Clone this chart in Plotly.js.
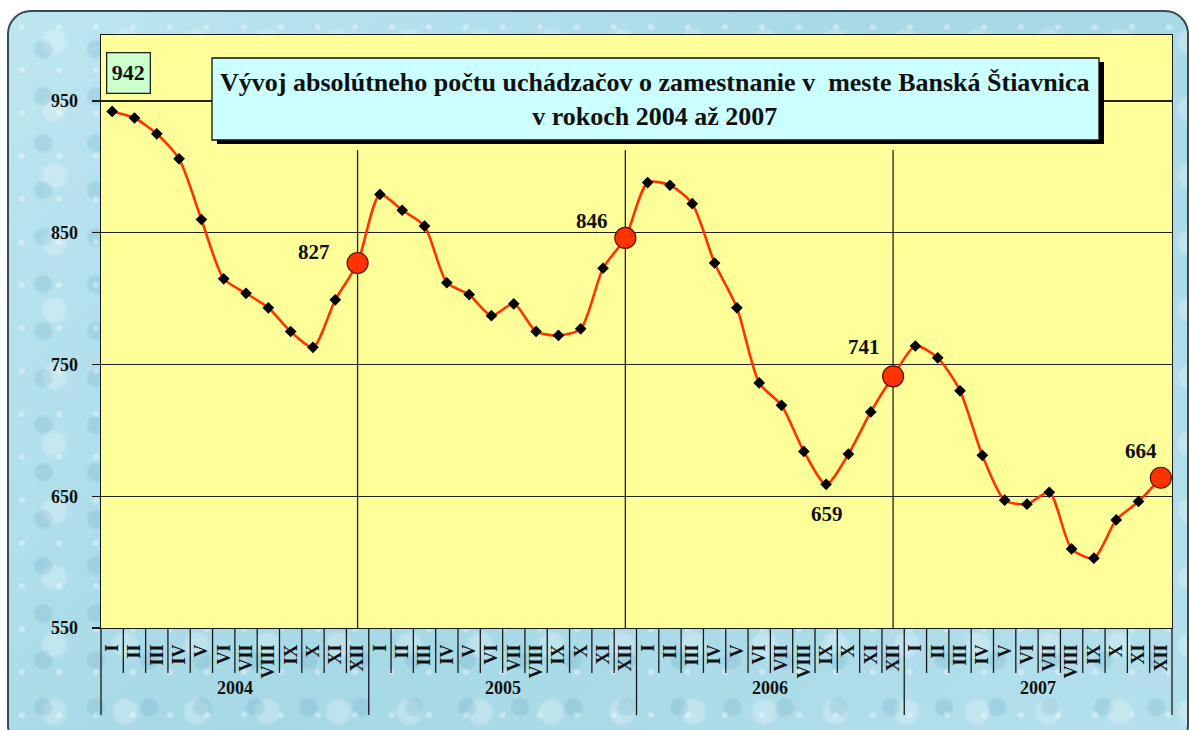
<!DOCTYPE html>
<html>
<head>
<meta charset="utf-8">
<script src="https://cdn.plot.ly/plotly-3.0.1.min.js"></script>
<style>
  html, body { margin:0; padding:0; background:#ffffff; overflow:hidden; }
  #card {
    position:absolute; left:7px; top:10px; width:1182px; height:740px;
    border:2px solid #3a4a50; border-radius:24px; box-sizing:border-box;
    background:
      radial-gradient(circle at 35% 35%, rgba(255,255,255,0.35) 0 2px, rgba(255,255,255,0) 4px) 0 0/37px 43px,
      radial-gradient(circle at 55% 60%, rgba(80,150,180,0.18) 0 7px, rgba(80,150,180,0) 11px) 5px 9px/53px 47px,
      radial-gradient(circle at 40% 40%, rgba(255,255,255,0.25) 0 10px, rgba(255,255,255,0) 15px) 17px 3px/71px 67px,
      linear-gradient(135deg, #bde6f0 0%, #a6d8e6 50%, #b4e0ec 100%);
  }
  #chart { position:absolute; left:0; top:0; width:1189px; height:730px; }
</style>
</head>
<body>
<div id="card"></div>
<div id="chart"></div>
<script>
// ---- data ----
const years = ['2004', '2005', '2006', '2007'];
const months = ['I','II','III','IV','V','VI','VII','VIII','IX','X','XI','XII'];
const v2004 = [942, 937, 925, 906, 860, 815, 804, 793, 775, 763, 799, 827];
const v2005 = [879, 867, 855, 812, 803, 787, 796, 775, 772, 777, 823, 846];
const v2006 = [888, 886, 872, 827, 793, 736, 719, 684, 659, 682, 714, 741];
const v2007 = [764, 755, 730, 681, 647, 644, 653, 610, 603, 632, 646, 664];
const yTicks = [550, 650, 750, 850, 950];
const titleLine1 = 'Vývoj absolútneho počtu uchádzačov o zamestnanie v\u00a0 meste Banská Štiavnica';
const titleLine2 = 'v rokoch 2004 až 2007';

// ---- derived ----
const values = [].concat(v2004, v2005, v2006, v2007);
const idx = values.map((_, i) => i);
const tickText = [].concat(months, months, months, months);
const decIdx = years.map((_, k) => k * 12 + 11);
const minIdx = values.indexOf(Math.min.apply(null, v2006));
const n = values.length;

const serif = '"Liberation Serif", "Times New Roman", "DejaVu Serif", serif';
const LINE = '#ff3300';

const traces = [
  {
    x: idx, y: values, type: 'scatter', mode: 'lines+markers',
    line: { color: LINE, width: 2.6, shape: 'spline', smoothing: 0.7 },
    marker: { symbol: 'diamond', size: 9, color: '#000000' },
    hoverinfo: 'skip'
  },
  {
    x: decIdx, y: decIdx.map(i => values[i]), type: 'scatter', mode: 'markers',
    marker: { symbol: 'circle', size: 21, color: LINE, line: { color: '#5a1000', width: 1.2 } },
    hoverinfo: 'skip'
  }
];

const H = 593, W = 1071;
const shapes = [];
// boundary ticks below the x axis
for (let k = 0; k <= n; k++) {
  shapes.push({
    type: 'line', xref: 'paper', yref: 'paper',
    x0: k / n, x1: k / n, y0: 0, y1: (k % 12 === 0) ? -87 / H : -45 / H,
    line: { color: '#1a1a1a', width: 1.3 }
  });
}
// year separators inside plot at December points
decIdx.slice(0, 3).forEach(i => {
  shapes.push({
    type: 'line', xref: 'x', yref: 'paper', x0: i, x1: i, y0: 0, y1: 478 / H,
    layer: 'below', line: { color: '#222222', width: 1.3 }
  });
});
// title box shadow + box
shapes.push({ type: 'rect', xref: 'paper', yref: 'paper', layer: 'above',
  x0: 116 / W, x1: 1003 / W, y0: 484 / H, y1: 566 / H,
  fillcolor: '#000000', line: { width: 0 } });
shapes.push({ type: 'rect', xref: 'paper', yref: 'paper', layer: 'above',
  x0: 111 / W, x1: 998 / W, y0: 488 / H, y1: 570 / H,
  fillcolor: '#ccffff', line: { color: '#111111', width: 1.3 } });

const annotations = [
  { xref: 'paper', yref: 'paper', x: 554 / W, y: 529 / H, xanchor: 'center', yanchor: 'middle',
    showarrow: false,
    text: '<b>' + titleLine1 + '</b><br><b>' + titleLine2 + '</b>',
    font: { family: serif, size: 26, color: '#111111' }, align: 'center' },
  { xref: 'paper', yref: 'paper', x: 27 / W, y: 555.5 / H, xanchor: 'center', yanchor: 'middle',
    showarrow: false, width: 34, height: 31,
    text: '<b>' + values[0] + '</b>', font: { family: serif, size: 22, color: '#111111' },
    bgcolor: '#ccffcc', bordercolor: '#222222', borderwidth: 1.3, borderpad: 4 }
];
const offsets = { 11: [-44, 11], 23: [-33, 17], 35: [-29, 29], 47: [-20, 27] };
decIdx.forEach(i => {
  annotations.push({ x: i, y: values[i], xref: 'x', yref: 'y', showarrow: false,
    text: '<b>' + values[i] + '</b>', font: { family: serif, size: 21, color: '#111111' },
    xshift: offsets[i][0], yshift: offsets[i][1] });
});
annotations.push({ x: minIdx, y: values[minIdx], xref: 'x', yref: 'y', showarrow: false,
  text: '<b>' + values[minIdx] + '</b>', font: { family: serif, size: 21, color: '#111111' },
  xshift: 1, yshift: -30 });
years.forEach((yr, k) => {
  annotations.push({ x: k * 12 + 5.5, y: -72 / H, xref: 'x', yref: 'paper', showarrow: false,
    text: '<b>' + yr + '</b>', font: { family: serif, size: 18, color: '#111111' } });
});

const layout = {
  width: 1189, height: 730,
  margin: { l: 101, r: 17, t: 35, b: 102 },
  paper_bgcolor: 'rgba(0,0,0,0)',
  plot_bgcolor: '#ffff99',
  showlegend: false,
  xaxis: {
    range: [-0.5, n - 0.5], tickmode: 'array', tickvals: idx, ticktext: tickText,
    tickangle: -90, ticks: '', showgrid: false, zeroline: false,
    showline: true, linecolor: '#1a1a1a', linewidth: 1.3, mirror: true,
    tickfont: { family: serif, size: 18, color: '#111111', weight: 'bold' },
    ticklabelstandoff: 8, automargin: false, fixedrange: true
  },
  yaxis: {
    range: [550, 1000], tickmode: 'array', tickvals: yTicks,
    ticks: 'outside', ticklen: 8, tickcolor: '#1a1a1a', tickwidth: 1.3,
    showgrid: true, gridcolor: '#222222', gridwidth: 1.3, zeroline: false,
    showline: true, linecolor: '#1a1a1a', linewidth: 1.3, mirror: true,
    tickfont: { family: serif, size: 18, color: '#111111', weight: 'bold' },
    ticklabelstandoff: 10, automargin: false, fixedrange: true
  },
  shapes: shapes,
  annotations: annotations
};

Plotly.newPlot('chart', traces, layout, { displayModeBar: false, staticPlot: true });
</script>
</body>
</html>
